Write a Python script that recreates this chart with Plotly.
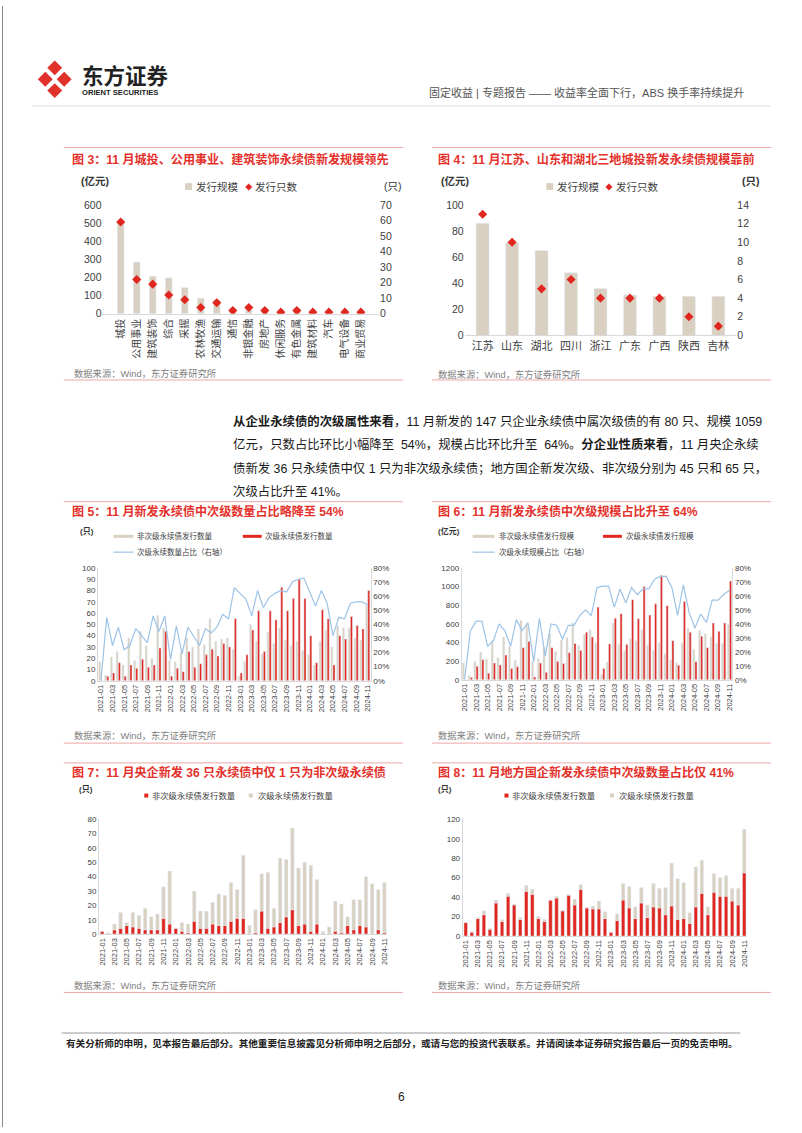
import plotly.graph_objects as go

W, H = 802, 1133
def X(px): return px / W
def Y(py): return 1 - py / H

RED = "#E0261E"
BEIGE = "#D9D0C1"
BLUE = "#9DC3E6"
TRED = "#E5312B"
GRAY = "#404040"
FONT = "Liberation Sans, Noto Sans CJK SC, sans-serif"

# ---------------- data ----------------
ind_names = ["城投", "公用事业", "建筑装饰", "综合", "采掘", "农林牧渔", "交通运输", "通信",
             "非银金融", "房地产", "休闲服务", "有色金属", "建筑材料", "汽车", "电气设备", "商业贸易"]
ind_scale = [498, 285, 207, 198, 145, 85, 76, 12, 22, 10, 4, 8, 5, 3, 3, 3]
ind_count = [59, 22, 19, 12, 9, 4, 7, 2, 4, 2, 1, 2, 1, 1, 1, 1]

prov_names = ["江苏", "山东", "湖北", "四川", "浙江", "广东", "广西", "陕西", "吉林"]
prov_scale = [86, 71, 65, 48, 36, 31, 30, 30, 30]
prov_count = [13, 10, 5, 6, 4, 4, 4, 2, 1]

months = [f"{y}-{m:02d}" for y in range(2021, 2025) for m in range(1, 13)][:47]
month_ticks = months[::2]

# Fig 5: counts
sub_cnt = [0, 4, 7, 16, 4, 14, 11, 19, 12, 14, 29, 44, 4, 11, 8, 26, 12, 15, 23, 28, 22, 33, 30,
           55, 7, 23, 45, 62, 26, 62, 54, 83, 62, 73, 90, 73, 40, 16, 63, 55, 14, 40, 37, 57, 49, 46, 80]
nonsub_cnt = [17, 5, 21, 26, 14, 38, 18, 44, 31, 20, 58, 47, 18, 17, 25, 38, 30, 46, 32, 55, 35, 37, 38,
              28, 4, 17, 50, 35, 24, 43, 33, 47, 36, 31, 35, 27, 23, 14, 35, 45, 30, 49, 47, 47, 38, 36, 67]
sub_cnt_ratio = [0, 45, 25, 38, 22, 25, 37, 32, 27, 46, 35, 46, 15, 39, 19, 38, 31, 25, 37, 34, 38, 47, 44,
                 66, 62, 58, 46, 64, 52, 59, 62, 64, 63, 70, 72, 73, 63, 53, 64, 55, 32, 45, 44, 55, 56, 56, 54]

# Fig 6: amounts (亿元)
sub_amt = [0, 25, 145, 215, 70, 180, 160, 265, 120, 140, 345, 410, 30, 180, 80, 345, 195, 175, 290, 390,
           315, 510, 460, 780, 120, 385, 660, 710, 380, 860, 655, 1000, 695, 815, 1120, 795, 420, 157,
           840, 510, 193, 468, 343, 610, 520, 610, 1059]
nonsub_amt = [180, 46, 200, 297, 222, 420, 240, 460, 360, 210, 640, 590, 200, 229, 350, 500, 305, 428, 453,
              610, 370, 490, 540, 400, 59, 190, 609, 382, 311, 443, 419, 538, 374, 317, 394, 279, 216, 184,
              395, 553, 329, 528, 494, 460, 392, 390, 596]
sub_amt_ratio = [0, 35, 42, 42, 24, 28, 40, 35, 24, 43, 35, 41, 13, 44, 17, 40, 39, 29, 39, 39, 46, 50, 46,
                 66, 67, 67, 52, 65, 55, 66, 61, 65, 65, 72, 74, 74, 66, 46, 68, 48, 37, 47, 41, 57, 57, 61, 64]

# Fig 7: central SOE
cen_non = [2, 0, 3, 4, 6, 5, 4, 3, 3, 3, 11, 7, 4, 2, 1, 9, 4, 4, 7, 6, 6,
           9, 11, 11, 0, 1, 16, 4, 5, 8, 12, 17, 6, 7, 2, 7, 0, 0, 2, 1, 6, 3, 6, 5, 0, 3, 1]
cen_sub = [0, 1, 4, 11, 2, 10, 9, 15, 9, 11, 22, 37, 0, 6, 6, 21, 12, 12, 15, 22, 21,
           27, 20, 44, 6, 16, 26, 39, 13, 45, 40, 57, 40, 43, 46, 31, 2, 5, 21, 20, 6, 21, 18, 35, 35, 28, 35]

# Fig 8: local SOE
loc_non = [14, 4, 18, 22, 7, 34, 15, 41, 32, 17, 46, 43, 18, 15, 37, 39, 26, 42, 32, 48, 29, 28, 28, 18,
           4, 16, 37, 29, 18, 34, 19, 30, 29, 22, 31, 17, 18, 13, 30, 44, 22, 45, 41, 41, 36, 32, 65]
loc_sub = [0, 1, 1, 4, 1, 3, 2, 3, 1, 2, 6, 5, 2, 2, 0, 2, 0, 1, 6, 5, 0, 3, 8, 7,
           0, 7, 17, 22, 12, 16, 13, 24, 20, 28, 44, 42, 37, 11, 41, 34, 8, 19, 19, 21, 13, 17, 45]

# ---------------- figure ----------------
fig = go.Figure()

# Fig 3
fig.add_trace(go.Bar(x=ind_names, y=ind_scale, marker_color=BEIGE, width=0.42, xaxis="x", yaxis="y"))
fig.add_trace(go.Scatter(x=ind_names, y=ind_count, mode="markers",
                         marker=dict(symbol="diamond", size=7, color=RED), xaxis="x", yaxis="y2"))
# Fig 4
fig.add_trace(go.Bar(x=prov_names, y=prov_scale, marker_color=BEIGE, width=0.44, xaxis="x2", yaxis="y3"))
fig.add_trace(go.Scatter(x=prov_names, y=prov_count, mode="markers",
                         marker=dict(symbol="diamond", size=7, color=RED), xaxis="x2", yaxis="y4"))
# Fig 5
fig.add_trace(go.Bar(x=months, y=nonsub_cnt, marker_color=BEIGE, width=0.36, offset=-0.38, xaxis="x3", yaxis="y5"))
fig.add_trace(go.Bar(x=months, y=sub_cnt, marker_color=RED, width=0.36, offset=0.0, xaxis="x3", yaxis="y5"))
fig.add_trace(go.Scatter(x=months, y=sub_cnt_ratio, mode="lines", line=dict(color=BLUE, width=1.2),
                         xaxis="x3", yaxis="y6"))
# Fig 6
fig.add_trace(go.Bar(x=months, y=nonsub_amt, marker_color=BEIGE, width=0.36, offset=-0.38, xaxis="x4", yaxis="y7"))
fig.add_trace(go.Bar(x=months, y=sub_amt, marker_color=RED, width=0.36, offset=0.0, xaxis="x4", yaxis="y7"))
fig.add_trace(go.Scatter(x=months, y=sub_amt_ratio, mode="lines", line=dict(color=BLUE, width=1.2),
                         xaxis="x4", yaxis="y8"))
# Fig 7
fig.add_trace(go.Bar(x=months, y=cen_non, marker_color=RED, width=0.58, offset=-0.29, xaxis="x5", yaxis="y9"))
fig.add_trace(go.Bar(x=months, y=cen_sub, base=cen_non, marker_color=BEIGE, width=0.58, offset=-0.29,
                     xaxis="x5", yaxis="y9"))
# Fig 8
fig.add_trace(go.Bar(x=months, y=loc_non, marker_color=RED, width=0.58, offset=-0.29, xaxis="x6", yaxis="y10"))
fig.add_trace(go.Bar(x=months, y=loc_sub, base=loc_non, marker_color=BEIGE, width=0.58, offset=-0.29,
                     xaxis="x6", yaxis="y10"))


def xax(x0, x1, anchor, size, angle=0, tickvals=None):
    d = dict(domain=[X(x0), X(x1)], anchor=anchor, showgrid=False, zeroline=False, showline=True,
             linecolor="#D9D9D9", linewidth=1, ticks="", tickangle=angle, fixedrange=True,
             tickfont=dict(family=FONT, size=size, color=GRAY), type="category")
    if tickvals is not None:
        d.update(tickmode="array", tickvals=tickvals, ticktext=tickvals)
    return d


def yax(top, bot, anchor, rng, dtick, size, side="left", overlay=None, suffix="", line=False):
    d = dict(anchor=anchor, range=rng, dtick=dtick, showgrid=False, zeroline=False, side=side,
             ticks="", showline=line, linecolor="#D9D9D9", fixedrange=True, ticksuffix=suffix,
             tickfont=dict(family=FONT, size=size, color=GRAY))
    if overlay:
        d["overlaying"] = overlay
    else:
        d["domain"] = [Y(bot), Y(top)]
    return d


fig.update_layout(
    width=W, height=H, margin=dict(l=0, r=0, t=0, b=0), paper_bgcolor="white", plot_bgcolor="white",
    showlegend=False, barmode="overlay",
    xaxis=xax(101, 379, "y", 10, angle=-90),
    yaxis=yax(201, 311, "x", [0, 600], 100, 10.5),
    yaxis2=yax(201, 311, "x", [0, 70], 10, 10.5, side="right", overlay="y"),
    xaxis2=xax(465, 738, "y3", 11),
    yaxis3=yax(201, 333, "x2", [0, 100], 20, 10.5),
    yaxis4=yax(201, 333, "x2", [0, 14], 2, 10.5, side="right", overlay="y3"),
    xaxis3=xax(96.5, 370.5, "y5", 7.5, angle=-90, tickvals=month_ticks),
    yaxis5=yax(568, 682, "x3", [0, 100], 10, 8, line=True),
    yaxis6=yax(568, 682, "x3", [0, 80], 10, 8, side="right", overlay="y5", suffix="%", line=True),
    xaxis4=xax(462, 734, "y7", 7.5, angle=-90, tickvals=month_ticks),
    yaxis7=yax(568, 681, "x4", [0, 1200], 200, 8, line=True),
    yaxis8=yax(568, 681, "x4", [0, 80], 10, 8, side="right", overlay="y7", suffix="%", line=True),
    xaxis5=xax(97.6, 387.4, "y9", 7.5, angle=-90, tickvals=month_ticks),
    yaxis9=yax(822, 938, "x5", [0, 80], 10, 8, line=True),
    xaxis6=xax(463, 749, "y10", 7.5, angle=-90, tickvals=month_ticks),
    yaxis10=yax(822, 940, "x6", [0, 120], 20, 8, line=True),
)

ann = []
shapes = []


def text(t, x, y, size, color="#333333", xanchor="left", yanchor="middle", family=FONT):
    ann.append(dict(text=t, x=X(x), y=Y(y), xref="paper", yref="paper", showarrow=False,
                    xanchor=xanchor, yanchor=yanchor, font=dict(family=family, size=size, color=color)))


def hline(x0, x1, y, color, width=1):
    shapes.append(dict(type="line", xref="paper", yref="paper", x0=X(x0), x1=X(x1), y0=Y(y), y1=Y(y),
                       line=dict(color=color, width=width)))


def rect(x0, y0, x1, y1, color):
    shapes.append(dict(type="rect", xref="paper", yref="paper", x0=X(x0), x1=X(x1), y0=Y(y1), y1=Y(y0),
                       fillcolor=color, line=dict(width=0)))


def diamond(cx, cy, r, color):
    p = f"M {X(cx)},{Y(cy - r)} L {X(cx + r)},{Y(cy)} L {X(cx)},{Y(cy + r)} L {X(cx - r)},{Y(cy)} Z"
    shapes.append(dict(type="path", xref="paper", yref="paper", path=p, fillcolor=color, line=dict(width=0)))


# page border
shapes.append(dict(type="line", xref="paper", yref="paper", x0=X(0.5), x1=X(0.5), y0=0, y1=1,
                   line=dict(color="#888888", width=1)))

# header
diamond(53, 62.5, 7.5, "#E0322B")
diamond(43.5, 74, 7.5, "#E0322B")
diamond(62.5, 74, 7.5, "#E0322B")
diamond(53, 85.5, 7.5, "#E0322B")
text("<b>东方证券</b>", 78, 71, 21.5, "#222222")
text("<b>ORIENT SECURITIES</b>", 78, 87, 7.6, "#222222")
text("固定收益 | 专题报告 —— 收益率全面下行，ABS 换手率持续提升", 748, 87, 11, "#555555", xanchor="right")
hline(30, 772, 101, "#DADADA")

# panel frames
for (x0, x1) in [(62, 403), (432, 773)]:
    for y in [143, 378, 501, 745, 765, 997]:
        hline(x0, x1, y, "#EAA8A8")

# titles
TS = 12.1
text("<b>图 3：11 月城投、公用事业、建筑装饰永续债新发规模领先</b>", 68, 155, TS, TRED)
text("<b>图 4：11 月江苏、山东和湖北三地城投新发永续债规模靠前</b>", 436, 155, TS, TRED)
text("<b>图 5：11 月新发永续债中次级数量占比略降至 54%</b>", 68, 511, TS, TRED)
text("<b>图 6：11 月新发永续债中次级规模占比升至 64%</b>", 436, 511, TS, TRED)
text("<b>图 7：11 月央企新发 36 只永续债中仅 1 只为非次级永续债</b>", 68, 775, TS, TRED)
text("<b>图 8：11 月地方国企新发永续债中次级数量占比仅 41%</b>", 436, 775, TS, TRED)

# sources
for (x, y) in [(70, 371), (436, 372), (70, 737), (436, 737), (70, 990), (436, 990)]:
    text("数据来源：Wind，东方证券研究所", x, y, 9.3, "#808080")

# fig 3 legend/units
text("<b>(亿元)</b>", 77, 177, 10.5, "#333333")
text("(只)", 382, 182, 10.5, "#333333")
rect(184, 179, 191, 186, BEIGE)
text("发行规模", 193, 183, 10.5, "#404040")
diamond(248, 183, 3.5, RED)
text("发行只数", 252, 183, 10.5, "#404040")

# fig 4 legend/units
text("<b>(亿元)</b>", 439, 177, 10.5, "#333333")
text("<b>(只)</b>", 742, 177, 10.5, "#333333")
rect(547, 179, 554, 186, BEIGE)
text("发行规模", 556, 183, 10.5, "#404040")
diamond(610, 183, 3.5, RED)
text("发行只数", 615, 183, 10.5, "#404040")

# fig 5 legend
text("<b>(只)</b>", 76, 531, 8, "#333333")
rect(112, 534.5, 132, 537.5, BEIGE)
text("非次级永续债发行数量", 134, 536, 7.5, "#404040")
rect(242, 534.5, 261, 537.5, RED)
text("次级永续债发行数量", 262, 536, 7.5, "#404040")
hline(112, 132, 552, BLUE, 1.2)
text("次级永续数量占比（右轴）", 134, 552, 7.5, "#404040")

# fig 6 legend
text("<b>(亿元)</b>", 436, 531, 8, "#333333")
rect(473, 534.5, 495, 537.5, BEIGE)
text("非次级永续债发行规模", 497, 536, 7.5, "#404040")
rect(604, 534.5, 623, 537.5, RED)
text("次级永续债发行规模", 625, 536, 7.5, "#404040")
hline(473, 495, 552, BLUE, 1.2)
text("次级永续规模占比（右轴）", 497, 552, 7.5, "#404040")

# fig 7 legend
text("<b>(只)</b>", 75, 792, 8, "#333333")
rect(143, 796, 147, 800, RED)
text("非次级永续债发行数量", 149, 798, 8.3, "#404040")
rect(248, 796, 252, 800, BEIGE)
text("次级永续债发行数量", 255, 798, 8.3, "#404040")

# fig 8 legend
text("<b>(只)</b>", 436, 792, 8, "#333333")
rect(505, 796, 509, 800, RED)
text("非次级永续债发行数量", 511, 798, 8.3, "#404040")
rect(611, 796, 615, 800, BEIGE)
text("次级永续债发行数量", 618, 798, 8.3, "#404040")

# paragraph
para = [
    "<b>从企业永续债的次级属性来看</b>，11 月新发的 147 只企业永续债中属次级债的有 80 只、规模 1059",
    "亿元，只数占比环比小幅降至  54%，规模占比环比升至  64%。<b>分企业性质来看</b>，11 月央企永续",
    "债新发 36 只永续债中仅 1 只为非次级永续债；地方国企新发次级、非次级分别为 45 只和 65 只，",
    "次级占比升至 41%。",
]
for i, line in enumerate(para):
    text(line, 230, 420 + i * 23.5, 12.4, "#1A1A1A")

# footer
hline(60, 742, 1038, "#999999")
text("<b>有关分析师的申明，见本报告最后部分。其他重要信息披露见分析师申明之后部分，或请与您的投资代表联系。并请阅读本证券研究报告最后一页的免责申明。</b>",
     62, 1049, 9.6, "#222222")
text("6", 401, 1103, 12, "#222222", xanchor="center")

fig.update_layout(annotations=ann, shapes=shapes)
fig.write_html("out.html")
